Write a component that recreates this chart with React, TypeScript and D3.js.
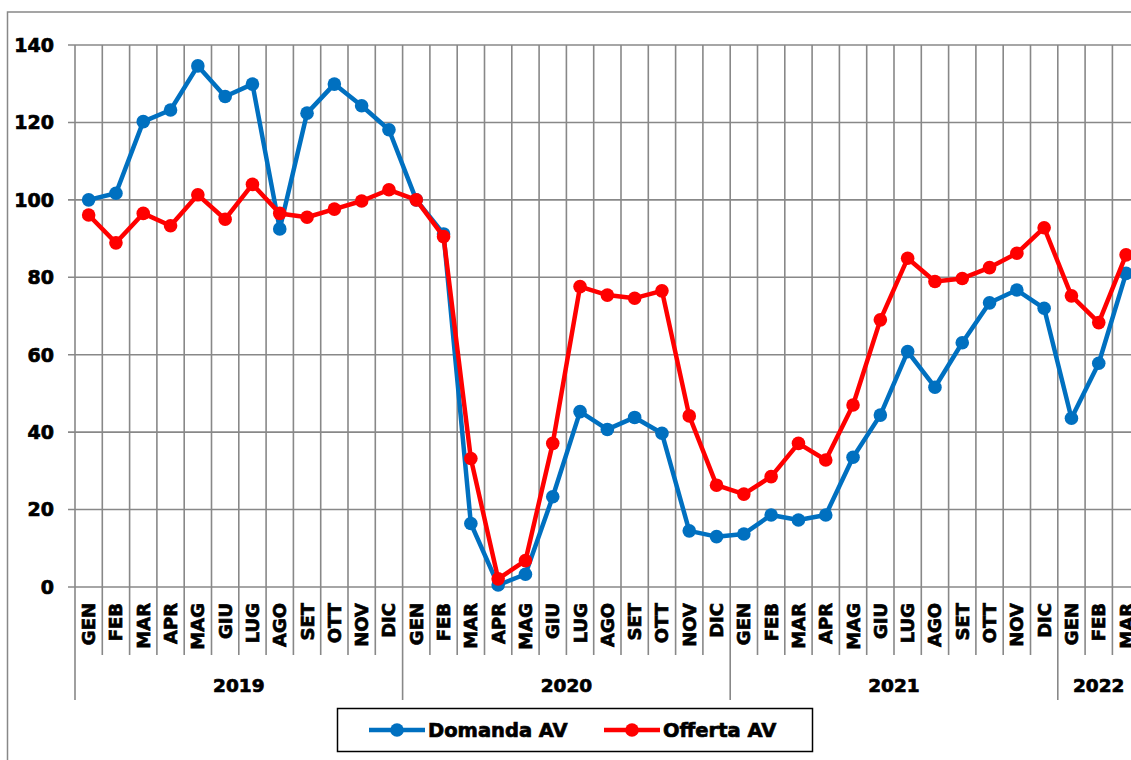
import React from "react";
import * as d3 from "d3";

const months = ["GEN","FEB","MAR","APR","MAG","GIU","LUG","AGO","SET","OTT","NOV","DIC"];
const years = [
  { year: "2019", count: 12 },
  { year: "2020", count: 12 },
  { year: "2021", count: 12 },
  { year: "2022", count: 3 },
];
const categories: string[] = years.flatMap((y) => months.slice(0, y.count));

const domanda = [
  100, 101.7, 120.2, 123.2, 134.6, 126.7, 129.9, 92.5, 122.4, 129.9, 124.3, 118.1,
  100, 91.2, 16.4, 0.5, 3.3, 23.3, 45.3, 40.7, 43.8, 39.7, 14.5, 13.0,
  13.7, 18.6, 17.3, 18.6, 33.5, 44.4, 60.8, 51.6, 63.1, 73.4, 76.7, 72.0,
  43.6, 57.8, 81.0,
];
const offerta = [
  96.1, 88.9, 96.5, 93.3, 101.3, 95.0, 104.0, 96.5, 95.5, 97.6, 99.7, 102.6,
  100, 90.5, 33.2, 2.1, 6.8, 37.1, 77.6, 75.4, 74.6, 76.5, 44.2, 26.3,
  24.0, 28.5, 37.1, 32.8, 47.0, 69.0, 84.9, 78.9, 79.7, 82.5, 86.2, 92.8,
  75.2, 68.3, 85.8,
];
const yTicks = [0, 20, 40, 60, 80, 100, 120, 140];

const series = [
  { name: "Domanda AV", values: domanda, color: "#0070C0" },
  { name: "Offerta AV", values: offerta, color: "#FF0000" },
];

const W = 1131;
const H = 760;
const FONT = "'DejaVu Sans', sans-serif";
const GRID = "#888888";
const TXT = { fontFamily: FONT, fontWeight: "bold" as const, fill: "#000", stroke: "#000", strokeWidth: 0.7 };

export default function App() {
  const left = 75;
  const band = 27.3;
  const x = d3
    .scaleBand<number>()
    .domain(categories.map((_, i) => i))
    .range([left, left + band * categories.length])
    .paddingInner(0)
    .paddingOuter(0);
  const y = d3.scaleLinear().domain([0, 140]).range([587, 45]);
  const cx = (i: number) => (x(i) as number) + x.bandwidth() / 2;

  const line = d3
    .line<number>()
    .x((_, i) => cx(i))
    .y((d) => y(d));

  const boundaries = d3.range(categories.length + 1).map((i) => left + i * x.bandwidth());

  let acc = 0;
  const groups = years.map((g) => {
    const start = acc;
    acc += g.count;
    return { ...g, start, end: acc };
  });

  return (
    <svg
      width={W}
      height={H}
      style={{ position: "absolute", left: 0, top: 0, display: "block", background: "#fff" }}
    >
      <rect x={7.5} y={12} width={1200} height={900} fill="none" stroke="#888" strokeWidth={1.5} />

      {yTicks.map((t) => (
        <line key={"h" + t} x1={left - 7} x2={W + 20} y1={y(t)} y2={y(t)} stroke={GRID} strokeWidth={1.6} />
      ))}
      {boundaries.map((bx, i) => {
        const isGroup = groups.some((g) => g.start === i);
        return (
          <line
            key={"v" + i}
            x1={bx}
            x2={bx}
            y1={y(140)}
            y2={isGroup ? 700 : 655}
            stroke={GRID}
            strokeWidth={1.6}
          />
        );
      })}

      {yTicks.map((t) => (
        <text key={"yt" + t} x={54} y={y(t)} dy="0.36em" textAnchor="end" fontSize={19} {...TXT}>
          {t}
        </text>
      ))}

      {categories.map((c, i) => (
        <text
          key={"c" + i}
          transform={`translate(${cx(i) + 6.5},603) rotate(-90)`}
          textAnchor="end"
          fontSize={18}
          {...TXT}
        >
          {c}
        </text>
      ))}

      {groups.map((g) => {
        const gx = (left + g.start * x.bandwidth() + left + g.end * x.bandwidth()) / 2;
        return (
          <text key={g.year} x={gx} y={692} textAnchor="middle" fontSize={18.5} {...TXT}>
            {g.year}
          </text>
        );
      })}

      {series.map((s) => (
        <g key={s.name}>
          <path d={line(s.values) || ""} fill="none" stroke={s.color} strokeWidth={4.5} strokeLinejoin="round" />
          {s.values.map((v, i) => (
            <circle key={i} cx={cx(i)} cy={y(v)} r={6.8} fill={s.color} />
          ))}
        </g>
      ))}

      <rect x={337.5} y={708.5} width={475} height={43} fill="#fff" stroke="#000" strokeWidth={1.5} />
      {series.map((s, i) => {
        const lx = i === 0 ? 369 : 604;
        return (
          <g key={"lg" + s.name}>
            <line x1={lx} x2={lx + 56} y1={730} y2={730} stroke={s.color} strokeWidth={4.5} />
            <circle cx={lx + 28} cy={730} r={6.8} fill={s.color} />
            <text x={lx + 59} y={730} dy="0.36em" fontSize={19.5} {...TXT}>
              {s.name}
            </text>
          </g>
        );
      })}
    </svg>
  );
}
